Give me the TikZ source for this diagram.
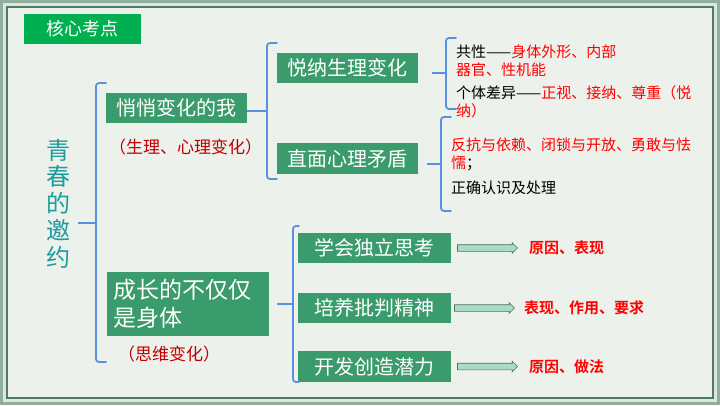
\documentclass[tikz,border=0pt]{standalone}
\usepackage{fontspec}
\setmainfont{Noto Sans CJK SC}[BoldFont={Noto Sans CJK SC Bold}]
\usetikzlibrary{positioning,shapes.arrows}
\definecolor{framegray}{HTML}{8FAE9E}
\definecolor{framelight}{HTML}{DCE6DF}
\definecolor{frameline}{HTML}{4E7A62}
\definecolor{paper}{HTML}{EDF1EC}
\definecolor{boxgreen}{HTML}{3A9B6C}
\definecolor{titlegreen}{HTML}{00B050}
\definecolor{titleteal}{HTML}{1C9C9C}
\definecolor{braceblue}{HTML}{5B8FE3}
\definecolor{darkred}{HTML}{C00000}
\definecolor{arrowfill}{HTML}{A8DCC4}
\definecolor{arrowline}{HTML}{4F6F60}
\begin{document}
\begin{tikzpicture}[x=1pt,y=-1pt,
    box/.style={fill=boxgreen, text=white, font=\fontsize{20}{24}\selectfont, inner sep=0pt, minimum width=141pt, minimum height=30pt},
    brace/.style={draw=braceblue, line width=1.8pt, rounded corners=3pt, line cap=round},
    tick/.style={draw=braceblue, line width=2pt},
    note/.style={inner sep=0pt, anchor=west, align=left, font=\fontsize{15}{18}\selectfont},
    fatarrow/.style={single arrow, draw=arrowline, fill=arrowfill, line width=0.6pt, minimum height=60pt, minimum width=10pt, inner sep=3pt, single arrow head extend=2pt, single arrow head indent=0pt},
    key/.style={text=red, inner sep=0pt, font=\fontsize{15}{18}\selectfont\bfseries}]
    \useasboundingbox (0,0) rectangle (720,405);
    \fill[framegray] (0,0) rectangle (720,405);
    \fill[framelight] (3,3) rectangle (717,402);
    \filldraw[fill=paper, draw=frameline, line width=1.2pt] (7,7) rectangle (713,398);

    \node[box, fill=titlegreen, minimum width=117pt, font=\fontsize{18}{22}\selectfont] (kaodian) at (82.5,29) {核心考点};
    \node[text=titleteal, align=center, font=\fontsize{24}{26.7}\selectfont] (qingchun) at (58,203.5) {青\\春\\的\\邀\\约};

    \node[box] (wo) at (176.5,108) {悄悄变化的我};
    \node[text=darkred, inner sep=0pt, font=\fontsize{17}{20}\selectfont] (shengli) at (185.5,147) {（生理、心理变化）};
    \node[box] (yuena) at (347.5,68) {悦纳生理变化};
    \node[box, minimum height=31pt] (zhimian) at (347.5,158.5) {直面心理矛盾};
    \node[note] (gongxing) at (456,61) {共性——\textcolor{red}{身体外形、内部}\\\textcolor{red}{器官、性机能}};
    \node[note] (geti) at (456,101.5) {个体差异——\textcolor{red}{正视、接纳、尊重（悦}\\\textcolor{red}{纳）}};
    \node[note] (fankang) at (451,154) {\textcolor{red}{反抗与依赖、闭锁与开放、勇敢与怯}\\\textcolor{red}{懦}；};
    \node[note] (zhengque) at (451,188) {正确认识及处理};

    \node[box, minimum width=162pt, minimum height=64pt, align=left, text width=150pt, font=\fontsize{23}{28}\selectfont] (chengzhang) at (188,304) {成长的不仅仅\\是身体};
    \node[text=darkred, inner sep=0pt, font=\fontsize{17}{20}\selectfont] (siwei) at (169,354) {（思维变化）};
    \node[box, minimum width=153pt] (sikao) at (374.5,248) {学会独立思考};
    \node[box, minimum width=153pt] (pipan) at (374.5,308) {培养批判精神};
    \node[box, minimum width=153pt, minimum height=31pt] (chuangzao) at (374.5,366.5) {开发创造潜力};

    \node[fatarrow, right=6pt of sikao] (jiantou1) {};
    \node[fatarrow, right=3pt of pipan] (jiantou2) {};
    \node[fatarrow, right=6pt of chuangzao] (jiantou3) {};
    \node[key, right=11pt of jiantou1] (yuanyin1) {原因、表现};
    \node[key, right=9pt of jiantou2] (biaoxian) {表现、作用、要求};
    \node[key, right=11pt of jiantou3] (yuanyin2) {原因、做法};

    \coordinate (k1) at (96,223);
    \coordinate (k2) at (267,111);
    \coordinate (k3) at (446,73);
    \coordinate (k4) at (441,164);
    \coordinate (k5) at (293,304);
    \draw[brace] (106,83) -- (96,83) -- (96,362) -- (106,362);
    \draw[tick, shorten >=4pt] (k1) -- (qingchun.east |- k1);
    \draw[brace] (277,43) -- (267,43) -- (267,179) -- (277,179);
    \draw[tick] (k2) -- (wo.east |- k2);
    \draw[brace] (456,38) -- (446,38) -- (446,109) -- (456,109);
    \draw[tick, shorten >=14pt] (k3) -- (yuena.east |- k3);
    \draw[brace] (451,117) -- (441,117) -- (441,211) -- (451,211);
    \draw[tick, shorten >=9pt] (k4) -- (zhimian.east |- k4);
    \draw[brace] (299,226) -- (293,226) -- (293,382) -- (299,382);
    \draw[tick, shorten >=8pt] (k5) -- (chengzhang.east |- k5);
\end{tikzpicture}
\end{document}
